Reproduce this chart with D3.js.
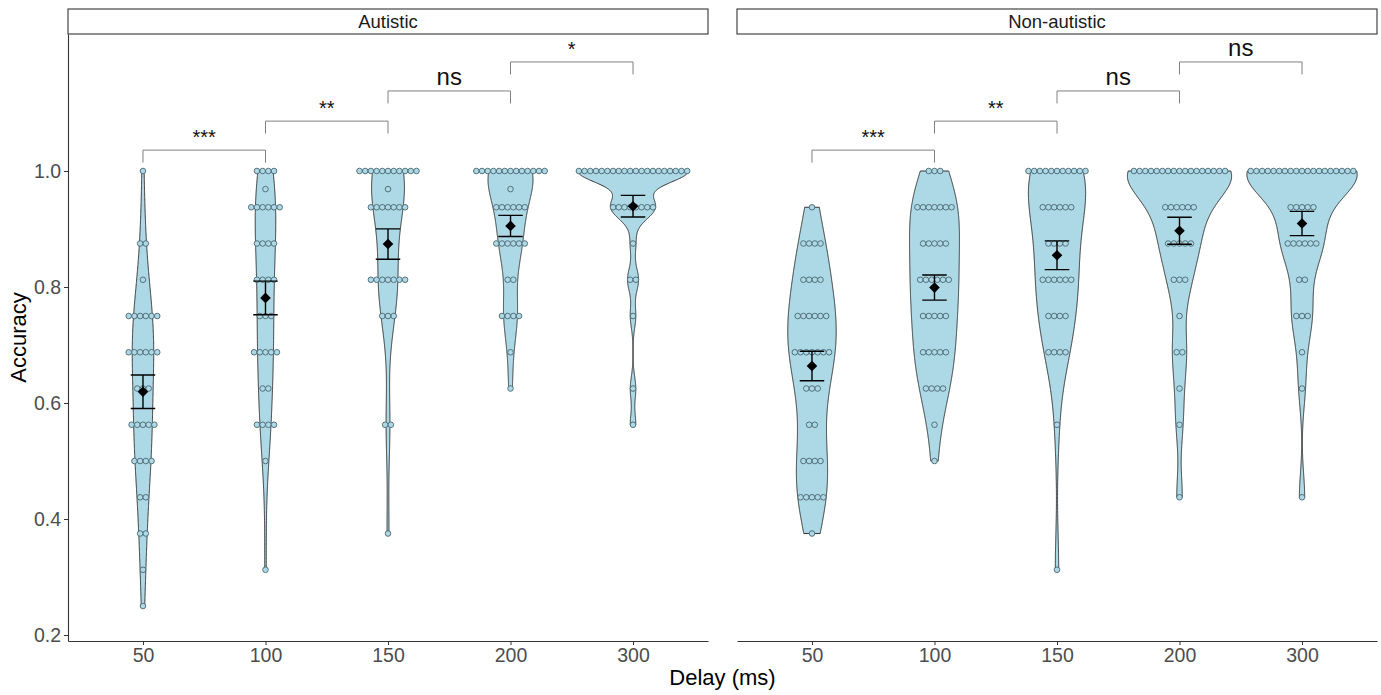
<!DOCTYPE html>
<html>
<head>
<meta charset="utf-8">
<script src="https://cdn.jsdelivr.net/npm/d3@7"></script>
<style>
  body { margin: 0; background: #fff; }
  svg { font-family: "Liberation Sans", Arial, Helvetica, sans-serif; }
</style>
</head>
<body>
<svg id="chart" width="1381" height="695"></svg>
<script>
// categories
const delays = ["50", "100", "150", "200", "300"];
const panels = ["Autistic", "Non-autistic"];

// accuracy values seen as dot rows (proportion correct)
const accuracyLevels = [1, 0.96875, 0.9375, 0.875, 0.8125, 0.75, 0.6875, 0.625, 0.5625, 0.5, 0.4375, 0.375, 0.3125, 0.25];

// participants per accuracy level, one row per delay (same order as accuracyLevels)
const autisticCounts = [
  [1, 0, 0, 2, 1, 6, 6, 3, 5, 4, 2, 2, 1, 1],   // 50
  [4, 1, 6, 4, 4, 3, 5, 2, 4, 1, 0, 0, 1, 0],   // 100
  [11, 1, 7, 1, 7, 3, 0, 0, 2, 0, 0, 1, 0, 0],  // 150
  [13, 1, 6, 6, 2, 4, 1, 1, 0, 0, 0, 0, 0, 0],  // 200
  [20, 0, 8, 1, 2, 1, 0, 1, 1, 0, 0, 0, 0, 0]   // 300
];
const nonAutisticCounts = [
  [0, 0, 1, 4, 4, 6, 7, 3, 2, 4, 5, 1, 0, 0],   // 50
  [3, 0, 7, 5, 6, 5, 5, 4, 1, 1, 0, 0, 0, 0],   // 100
  [11, 0, 6, 4, 6, 4, 4, 0, 1, 0, 0, 0, 1, 0],  // 150
  [17, 0, 6, 5, 3, 1, 2, 1, 1, 0, 1, 0, 0, 0],  // 200
  [19, 0, 5, 6, 2, 3, 1, 1, 0, 0, 1, 0, 0, 0]   // 300
];

const yTicks = [0.2, 0.4, 0.6, 0.8, 1.0];

// significance brackets between neighbouring delays
const comparisons = [["50", "100"], ["100", "150"], ["150", "200"], ["200", "300"]];
const bracketHeights = [1.036, 1.086, 1.138, 1.188];
const autisticLabels = ["***", "**", "ns", "*"];
const nonAutisticLabels = ["***", "**", "ns", "ns"];

const panelCounts = [autisticCounts, nonAutisticCounts];
const panelLabels = [autisticLabels, nonAutisticLabels];

// layout
const panelLeft = [68, 737],
    panelWidth = 640,
    panelTop = 34,
    panelBottom = 641,
    stripTop = 9;

const fill = "#ADD8E6";
const dotD = 5.7;

const svg = d3.select("#chart");

const y = d3.scaleLinear()
    .domain([0.1897, 1.2362])
    .range([panelBottom, panelTop]);

const x = d3.scalePoint()
    .domain(delays)
    .range([0, panelWidth])
    .padding(0.612);

// expand the counts into raw scores
function expand(counts) {
    const vals = [];
    counts.forEach((c, i) => { for (let k = 0; k < c; k++) vals.push(accuracyLevels[i]); });
    return vals.sort(d3.ascending);
}

// gaussian kernel density, bandwidth like R's bw.nrd0, trimmed to data range
function density(values) {
    const n = values.length;
    const sd = d3.deviation(values);
    const iqr = d3.quantile(values, 0.75) - d3.quantile(values, 0.25);
    let lo = Math.min(sd, iqr / 1.34);
    if (!lo) lo = sd || Math.abs(values[0]) || 1;
    const bw = 0.9 * lo * Math.pow(n, -0.2);
    const [mn, mx] = d3.extent(values);
    return d3.range(512).map(i => {
        const v = mn + (mx - mn) * i / 511;
        const d = d3.mean(values, u => Math.exp(-0.5 * ((v - u) / bw) ** 2)) / (bw * Math.sqrt(2 * Math.PI));
        return [v, d];
    });
}

panels.forEach((name, p) => {
    const g = svg.append("g").attr("transform", "translate(" + panelLeft[p] + ",0)");

    // strip
    g.append("rect")
        .attr("x", 0).attr("y", stripTop)
        .attr("width", panelWidth).attr("height", panelTop - stripTop)
        .attr("fill", "#fff").attr("stroke", "#333").attr("stroke-width", 1.1);
    g.append("text")
        .attr("x", panelWidth / 2).attr("y", (stripTop + panelTop) / 2)
        .attr("dy", "0.35em")
        .attr("text-anchor", "middle")
        .attr("font-size", 18.5)
        .attr("fill", "#1a1a1a")
        .text(name);

    const groups = delays.map((dl, i) => {
        const vals = expand(panelCounts[p][i]);
        return {
            delay: dl,
            counts: panelCounts[p][i],
            values: vals,
            dens: density(vals),
            mean: d3.mean(vals),
            se: d3.deviation(vals) / Math.sqrt(vals.length)
        };
    });

    // scale = "area": widths relative to the largest density in the panel
    const maxDens = d3.max(groups, gr => d3.max(gr.dens, d => d[1]));
    const halfMax = 0.9 * x.step() / 2;

    groups.forEach(gr => {
        const cx = x(gr.delay);
        const area = d3.area()
            .y(d => y(d[0]))
            .x0(d => cx - halfMax * d[1] / maxDens)
            .x1(d => cx + halfMax * d[1] / maxDens);
        g.append("path")
            .datum(gr.dens)
            .attr("d", area)
            .attr("fill", fill)
            .attr("stroke", "#333")
            .attr("stroke-width", 1);
    });

    // dot plots, stacked centred on each delay
    groups.forEach(gr => {
        const cx = x(gr.delay);
        const dots = [];
        gr.counts.forEach((c, i) => {
            for (let k = 0; k < c; k++) dots.push({ v: accuracyLevels[i], off: k - (c - 1) / 2 });
        });
        g.selectAll(null)
            .data(dots)
            .enter()
            .append("circle")
            .attr("cx", d => cx + d.off * dotD)
            .attr("cy", d => y(d.v))
            .attr("r", 2.8)
            .attr("fill", fill)
            .attr("stroke", "#4a6670")
            .attr("stroke-width", 0.9);
    });

    // mean +/- se
    groups.forEach(gr => {
        const cx = x(gr.delay);
        const hw = 0.1 * x.step();
        const top = y(gr.mean + gr.se), bot = y(gr.mean - gr.se);
        g.append("path")
            .attr("d", `M${cx - hw},${top}H${cx + hw}M${cx},${top}V${bot}M${cx - hw},${bot}H${cx + hw}`)
            .attr("fill", "none")
            .attr("stroke", "#000")
            .attr("stroke-width", 1.4);
        const my = y(gr.mean), r = 5.3;
        g.append("path")
            .attr("d", `M${cx},${my - r}L${cx + r},${my}L${cx},${my + r}L${cx - r},${my}Z`)
            .attr("fill", "#000");
    });

    // significance brackets
    comparisons.forEach((cmp, i) => {
        const x1 = x(cmp[0]), x2 = x(cmp[1]);
        const by = y(bracketHeights[i]);
        g.append("path")
            .attr("d", `M${x1},${by + 12.5}V${by}H${x2}V${by + 12.5}`)
            .attr("fill", "none")
            .attr("stroke", "#808080")
            .attr("stroke-width", 1);
        const lab = panelLabels[p][i];
        g.append("text")
            .attr("x", (x1 + x2) / 2)
            .attr("y", by - 6)
            .attr("text-anchor", "middle")
            .attr("font-size", lab === "ns" ? 24 : 20)
            .attr("fill", "#111")
            .text(lab);
    });

    // x axis
    const xAxis = g.append("g")
        .attr("transform", "translate(0," + panelBottom + ")")
        .call(d3.axisBottom(x).tickSize(4).tickSizeOuter(0).tickPadding(3));
    xAxis.select(".domain").attr("stroke", "#333").attr("stroke-width", 1.1);
    xAxis.selectAll(".tick line").attr("stroke", "#333");
    xAxis.selectAll(".tick text")
        .attr("font-size", 19.5)
        .attr("font-family", "Liberation Sans, Arial, sans-serif")
        .attr("fill", "#4d4d4d");

    // y axis only on the first panel
    if (p === 0) {
        const yAxis = g.append("g")
            .call(d3.axisLeft(y).tickValues(yTicks).tickFormat(d3.format(".1f")).tickSize(4).tickSizeOuter(0).tickPadding(3));
        yAxis.select(".domain").attr("stroke", "#333").attr("stroke-width", 1.1);
        yAxis.selectAll(".tick line").attr("stroke", "#333");
        yAxis.selectAll(".tick text")
            .attr("font-size", 19.5)
            .attr("font-family", "Liberation Sans, Arial, sans-serif")
            .attr("fill", "#4d4d4d");
    }
});

// axis titles
svg.append("text")
    .attr("x", (panelLeft[0] + panelLeft[1] + panelWidth) / 2)
    .attr("y", 685)
    .attr("text-anchor", "middle")
    .attr("font-size", 22)
    .attr("fill", "#000")
    .text("Delay (ms)");

svg.append("text")
    .attr("transform", "translate(26," + (panelTop + panelBottom) / 2 + ") rotate(-90)")
    .attr("text-anchor", "middle")
    .attr("font-size", 22)
    .attr("fill", "#000")
    .text("Accuracy");
</script>
</body>
</html>
